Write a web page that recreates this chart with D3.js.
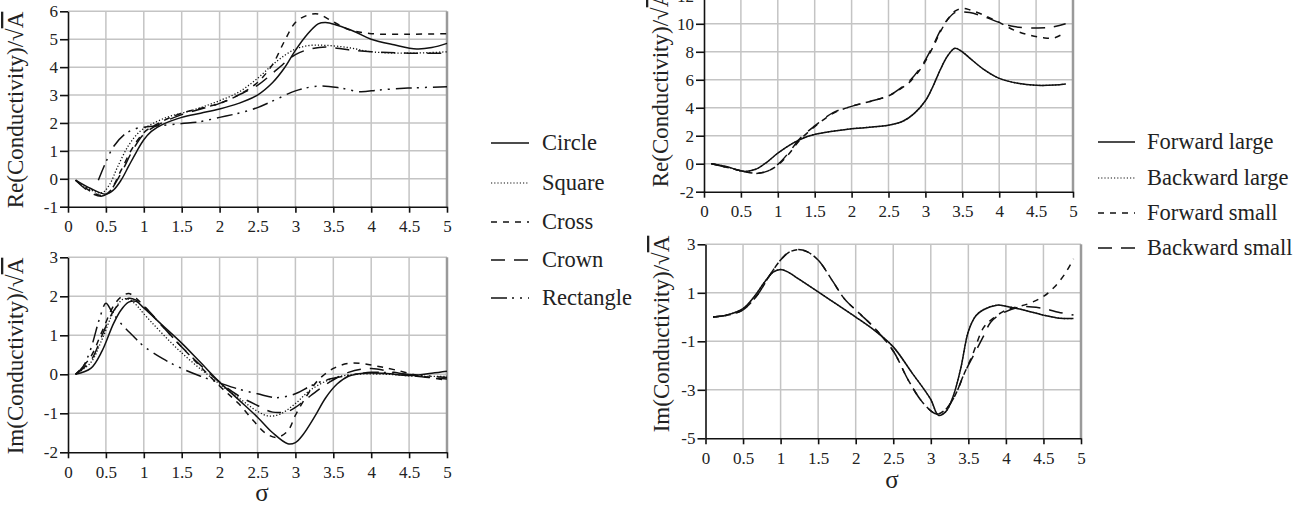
<!DOCTYPE html>
<html>
<head>
<meta charset="utf-8">
<script src="https://cdn.jsdelivr.net/npm/d3@7"></script>
<style>
body { margin: 0; background: #fff; }
svg text { font-family: "Liberation Serif", "Times New Roman", serif; fill: #222; }
.axis text { font-size: 17px; }
.axis path, .axis line { stroke: #111; stroke-width: 1.6; }
</style>
</head>
<body>
<svg id="chart" width="1302" height="508"></svg>
<script>
"use strict";

// ---- data ----
const sigmaTicks = [0, 0.5, 1, 1.5, 2, 2.5, 3, 3.5, 4, 4.5, 5];
const reLeftTicks = [-1, 0, 1, 2, 3, 4, 5, 6];
const imLeftTicks = [-2, -1, 0, 1, 2, 3];
const reRightTicks = [-2, 0, 2, 4, 6, 8, 10, 12];
const imRightTicks = [-5, -3, -1, 1, 3];

const shapes = ["Circle", "Square", "Cross", "Crown", "Rectangle"];
const runs = ["Forward large", "Backward large", "Forward small", "Backward small"];

// shapes, real part
const reCircle = [[0.1,-0.05],[0.3,-0.35],[0.5,-0.55],[0.6,-0.4],[0.7,-0.05],[0.8,0.45],[0.9,0.95],[1.0,1.4],[1.1,1.7],[1.25,1.95],[1.5,2.2],[1.75,2.35],[2.0,2.5],[2.25,2.7],[2.5,3.0],[2.7,3.45],[2.85,3.95],[3.0,4.6],[3.15,5.15],[3.3,5.55],[3.4,5.6],[3.55,5.5],[3.8,5.25],[4.0,5.0],[4.3,4.8],[4.6,4.65],[4.8,4.7],[5.0,4.85]];
const reSquare = [[0.1,-0.05],[0.3,-0.4],[0.45,-0.5],[0.55,-0.2],[0.65,0.4],[0.8,1.2],[0.95,1.7],[1.1,1.95],[1.3,2.2],[1.5,2.35],[1.75,2.55],[2.0,2.8],[2.25,3.1],[2.5,3.6],[2.75,4.2],[3.0,4.65],[3.2,4.78],[3.4,4.78],[3.7,4.7],[4.0,4.55],[4.5,4.5],[5.0,4.55]];
const reCross = [[0.1,-0.05],[0.3,-0.45],[0.45,-0.6],[0.55,-0.45],[0.7,0.3],[0.85,1.1],[1.0,1.65],[1.2,2.0],[1.5,2.35],[2.0,2.7],[2.25,3.0],[2.5,3.45],[2.7,4.1],[2.85,4.9],[3.0,5.6],[3.15,5.85],[3.3,5.9],[3.45,5.7],[3.7,5.35],[4.0,5.2],[4.5,5.18],[5.0,5.2]];
const reCrown = [[0.1,-0.05],[0.3,-0.5],[0.45,-0.62],[0.55,-0.45],[0.7,0.2],[0.85,1.0],[1.0,1.6],[1.2,1.95],[1.5,2.3],[2.0,2.7],[2.25,3.0],[2.5,3.35],[2.75,3.9],[3.0,4.45],[3.2,4.65],[3.4,4.72],[3.7,4.62],[4.0,4.55],[4.5,4.5],[5.0,4.5]];
const reRectangle = [[0.4,-0.05],[0.5,0.6],[0.6,1.15],[0.75,1.6],[0.9,1.8],[1.0,1.85],[1.2,1.9],[1.5,1.98],[1.75,2.05],[2.0,2.2],[2.25,2.35],[2.5,2.55],[2.75,2.85],[3.0,3.15],[3.3,3.32],[3.6,3.25],[3.85,3.12],[4.1,3.18],[4.5,3.25],[5.0,3.3]];

// shapes, imaginary part
const imCircle = [[0.1,0],[0.3,0.15],[0.45,0.6],[0.6,1.3],[0.7,1.65],[0.8,1.85],[0.9,1.87],[1.0,1.7],[1.25,1.25],[1.5,0.8],[1.75,0.3],[2.0,-0.2],[2.25,-0.65],[2.5,-1.1],[2.7,-1.5],[2.9,-1.78],[3.0,-1.75],[3.1,-1.55],[3.25,-1.1],[3.4,-0.6],[3.55,-0.25],[3.7,-0.05],[3.9,0.03],[4.2,0.02],[4.5,-0.03],[4.8,0.03],[5.0,0.08]];
const imSquare = [[0.1,0],[0.3,0.3],[0.45,0.9],[0.6,1.6],[0.72,1.92],[0.8,1.93],[0.9,1.78],[1.0,1.55],[1.5,0.55],[2.0,-0.25],[2.25,-0.6],[2.5,-0.95],[2.65,-1.07],[2.8,-1.02],[3.0,-0.75],[3.2,-0.4],[3.5,-0.1],[3.8,0.0],[4.2,0.0],[4.6,-0.05],[5.0,-0.05]];
const imCross = [[0.1,0],[0.3,0.45],[0.45,1.1],[0.6,1.75],[0.7,1.98],[0.8,2.07],[0.9,1.95],[1.0,1.75],[1.5,0.7],[2.0,-0.3],[2.25,-0.75],[2.45,-1.2],[2.6,-1.5],[2.75,-1.62],[2.9,-1.45],[3.0,-1.05],[3.15,-0.55],[3.3,-0.15],[3.5,0.15],[3.7,0.28],[3.9,0.27],[4.1,0.2],[4.3,0.12],[4.6,-0.02],[5.0,-0.15]];
const imCrown = [[0.1,0],[0.3,0.35],[0.45,1.0],[0.55,1.45],[0.65,1.75],[0.8,1.95],[0.9,1.9],[1.0,1.75],[1.5,0.7],[2.0,-0.2],[2.25,-0.55],[2.5,-0.8],[2.7,-0.97],[2.9,-0.95],[3.0,-0.85],[3.2,-0.55],[3.45,-0.2],[3.7,0.05],[4.0,0.15],[4.3,0.05],[4.6,-0.05],[5.0,-0.12]];
const imRectangle = [[0.1,0],[0.2,0.2],[0.3,0.65],[0.42,1.45],[0.5,1.82],[0.58,1.6],[0.7,1.3],[0.85,1.0],[1.0,0.72],[1.25,0.4],[1.5,0.15],[1.75,-0.05],[2.0,-0.22],[2.25,-0.38],[2.5,-0.5],[2.75,-0.6],[3.0,-0.5],[3.2,-0.3],[3.4,-0.15],[3.7,-0.03],[4.0,0.05],[4.3,0.03],[4.6,-0.02],[5.0,-0.08]];

// scattering runs, real part
const reFwdLarge = [[0.1,0],[0.3,-0.2],[0.55,-0.55],[0.7,-0.4],[0.85,0.1],[1.0,0.75],[1.2,1.45],[1.4,1.95],[1.6,2.2],[2.0,2.5],[2.5,2.75],[2.7,3.05],[2.85,3.6],[3.0,4.5],[3.1,5.5],[3.2,6.7],[3.3,7.7],[3.4,8.25],[3.5,8.0],[3.6,7.55],[3.8,6.7],[4.0,6.1],[4.25,5.75],[4.5,5.6],[4.75,5.62],[4.9,5.7]];
const reBwdLarge = [[0.1,0],[0.3,-0.2],[0.55,-0.55],[0.7,-0.4],[0.85,0.1],[1.0,0.75],[1.2,1.45],[1.4,1.95],[1.6,2.2],[2.0,2.5],[2.5,2.75],[2.7,3.05],[2.85,3.6],[3.0,4.5],[3.1,5.5],[3.2,6.7],[3.3,7.7],[3.4,8.25],[3.5,8.0],[3.6,7.55],[3.8,6.7],[4.0,6.1],[4.25,5.75],[4.5,5.6],[4.75,5.62],[4.9,5.7]];
const reFwdSmall = [[0.1,0],[0.3,-0.25],[0.5,-0.5],[0.7,-0.68],[0.85,-0.55],[1.0,-0.1],[1.15,0.7],[1.3,1.7],[1.5,2.65],[1.75,3.6],[2.0,4.1],[2.25,4.45],[2.5,4.85],[2.65,5.3],[2.8,5.9],[2.95,6.9],[3.1,8.3],[3.2,9.4],[3.3,10.3],[3.4,10.9],[3.5,11.1],[3.6,11.0],[3.8,10.6],[4.0,10.1],[4.2,9.55],[4.4,9.2],[4.6,9.0],[4.75,9.0],[4.9,9.4]];
const reBwdSmall = [[0.1,0],[0.3,-0.25],[0.5,-0.5],[0.7,-0.7],[0.85,-0.55],[1.0,-0.05],[1.15,0.8],[1.3,1.8],[1.5,2.7],[1.75,3.65],[2.0,4.1],[2.25,4.45],[2.5,4.85],[2.65,5.35],[2.8,6.0],[2.95,7.0],[3.1,8.4],[3.2,9.5],[3.3,10.3],[3.4,10.8],[3.5,10.85],[3.6,10.8],[3.8,10.5],[4.0,10.1],[4.2,9.8],[4.5,9.7],[4.7,9.75],[4.9,10.0]];

// scattering runs, imaginary part
const imFwdLarge = [[0.1,0],[0.3,0.1],[0.5,0.35],[0.65,0.85],[0.8,1.5],[0.9,1.85],[1.0,1.96],[1.1,1.85],[1.25,1.55],[1.5,1.04],[1.75,0.52],[2.0,0.0],[2.25,-0.55],[2.5,-1.23],[2.75,-2.3],[3.0,-3.4],[3.1,-4.05],[3.2,-3.9],[3.3,-3.25],[3.4,-2.1],[3.5,-0.6],[3.6,0.05],[3.7,0.3],[3.88,0.49],[4.0,0.45],[4.25,0.28],[4.5,0.08],[4.72,-0.05],[4.9,-0.06]];
const imBwdLarge = [[0.1,0],[0.3,0.1],[0.5,0.35],[0.65,0.85],[0.8,1.5],[0.9,1.85],[1.0,1.96],[1.1,1.85],[1.25,1.55],[1.5,1.04],[1.75,0.52],[2.0,0.0],[2.25,-0.55],[2.5,-1.23],[2.75,-2.3],[3.0,-3.4],[3.1,-4.05],[3.2,-3.9],[3.3,-3.25],[3.4,-2.1],[3.5,-0.6],[3.6,0.05],[3.7,0.3],[3.88,0.49],[4.0,0.45],[4.25,0.28],[4.5,0.08],[4.72,-0.05],[4.9,-0.06]];
const imFwdSmall = [[0.1,0],[0.3,0.08],[0.5,0.3],[0.7,0.95],[0.85,1.7],[1.0,2.35],[1.1,2.65],[1.22,2.78],[1.35,2.7],[1.5,2.35],[1.7,1.45],[1.85,0.75],[2.05,0.15],[2.25,-0.45],[2.5,-1.4],[2.7,-2.6],[2.9,-3.55],[3.08,-4.0],[3.2,-3.8],[3.32,-3.25],[3.45,-2.3],[3.55,-1.6],[3.7,-0.45],[3.8,-0.12],[4.0,0.28],[4.3,0.55],[4.5,0.85],[4.65,1.25],[4.8,1.85],[4.9,2.4]];
const imBwdSmall = [[0.1,0],[0.3,0.08],[0.5,0.3],[0.7,0.95],[0.85,1.7],[1.0,2.35],[1.1,2.65],[1.22,2.78],[1.35,2.7],[1.5,2.35],[1.7,1.45],[1.85,0.75],[2.05,0.15],[2.25,-0.45],[2.5,-1.4],[2.7,-2.6],[2.9,-3.55],[3.08,-4.0],[3.2,-3.8],[3.32,-3.25],[3.45,-2.3],[3.6,-1.4],[3.7,-0.8],[3.8,-0.2],[3.95,0.15],[4.2,0.42],[4.5,0.35],[4.7,0.2],[4.9,0.08]];

// line styles per legend entry
const dashes = {
	"Circle": null, "Square": "1.2,2", "Cross": "6,6", "Crown": "14,9", "Rectangle": "16,5,2,6,2,6",
	"Forward large": null, "Backward large": "1.2,2", "Forward small": "6,6", "Backward small": "14,9",
};

const panels = [
	{ left: 68, right: 447, top: 11.3, bottom: 206.7, yDomain: [-1, 6], yTicks: reLeftTicks,
		title: "Re", titleX: 23, titleY: 110, names: shapes,
		series: [reCircle, reSquare, reCross, reCrown, reRectangle] },
	{ left: 68, right: 447, top: 257.3, bottom: 452.3, yDomain: [-2, 3], yTicks: imLeftTicks,
		title: "Im", titleX: 23, titleY: 356, names: shapes,
		series: [imCircle, imSquare, imCross, imCrown, imRectangle] },
	{ left: 704, right: 1073, top: -4.2, bottom: 191.7, yDomain: [-2, 12], yTicks: reRightTicks,
		title: "Re", titleX: 668, titleY: 89, names: runs,
		series: [reFwdLarge, reBwdLarge, reFwdSmall, reBwdSmall] },
	{ left: 705.5, right: 1081, top: 244.3, bottom: 438.3, yDomain: [-5, 3], yTicks: imRightTicks,
		title: "Im", titleX: 669, titleY: 334, names: runs,
		series: [imFwdLarge, imBwdLarge, imFwdSmall, imBwdSmall] },
];

const svg = d3.select("#chart");
const fmt = (d) => String(d);

const drawPanel = (p) => {
	const x = d3.scaleLinear().domain([0, 5]).range([p.left, p.right]);
	const y = d3.scaleLinear().domain(p.yDomain).range([p.bottom, p.top]);
	const g = svg.append("g");

	// grid
	g.append("g").selectAll("line")
		.data(sigmaTicks.filter((d) => d > 0 && d < 5))
		.join("line")
		.attr("x1", (d) => x(d)).attr("x2", (d) => x(d))
		.attr("y1", p.top).attr("y2", p.bottom)
		.attr("stroke", "#c4c4c4").attr("stroke-width", 1.5);
	g.append("g").selectAll("line")
		.data(p.yTicks.filter((d) => d > p.yDomain[0]))
		.join("line")
		.attr("x1", p.left).attr("x2", p.right)
		.attr("y1", (d) => y(d)).attr("y2", (d) => y(d))
		.attr("stroke", "#c4c4c4").attr("stroke-width", 1.5);
	g.append("line")
		.attr("x1", p.right).attr("x2", p.right)
		.attr("y1", p.top).attr("y2", p.bottom)
		.attr("stroke", "#9a9a9a").attr("stroke-width", 2.5);

	// curves
	const line = d3.line()
		.x((d) => x(d[0]))
		.y((d) => y(d[1]))
		.curve(d3.curveCatmullRom.alpha(0.5));
	p.series.forEach((s, i) => {
		g.append("path")
			.datum(s)
			.attr("d", line)
			.attr("fill", "none")
			.attr("stroke", "#111")
			.attr("stroke-width", dashes[p.names[i]] === "1.2,2" ? 1.3 : 1.5)
			.attr("stroke-dasharray", dashes[p.names[i]]);
	});

	// axes
	g.append("g").attr("class", "axis")
		.attr("transform", `translate(0,${p.bottom})`)
		.call(d3.axisBottom(x).tickValues(sigmaTicks).tickFormat(fmt)
			.tickSize(6).tickPadding(7.5).tickSizeOuter(0));
	g.append("g").attr("class", "axis")
		.attr("transform", `translate(${p.left},0)`)
		.call(d3.axisLeft(y).tickValues(p.yTicks).tickFormat(fmt)
			.tickSize(8).tickPadding(2).tickSizeOuter(0));

	const t = g.append("text")
		.attr("transform", `translate(${p.titleX},${p.titleY}) rotate(-90)`)
		.attr("text-anchor", "middle")
		.style("font-size", "23px");
	t.append("tspan").text(`${p.title}(Conductivity)/\u221A`);
	t.append("tspan").style("text-decoration", "overline").text("A");
};

panels.forEach(drawPanel);

// sigma labels
[[262, 501], [892, 488]].forEach(([cx, cy]) => {
	svg.append("text").attr("x", cx).attr("y", cy)
		.attr("text-anchor", "middle").style("font-size", "25px").text("\u03C3");
});

// legends
const legend = (names, x0, x1, tx, ys) => {
	const g = svg.append("g");
	names.forEach((n, i) => {
		g.append("line")
			.attr("x1", x0).attr("x2", x1).attr("y1", ys[i]).attr("y2", ys[i])
			.attr("stroke", "#111").attr("stroke-width", dashes[n] === "1.2,2" ? 1.2 : 1.5)
			.attr("stroke-dasharray", dashes[n]);
		g.append("text").attr("x", tx).attr("y", ys[i]).attr("dy", "0.33em")
			.style("font-size", "22.5px").text(n);
	});
};
legend(shapes, 491, 529, 542, [143, 183, 222, 260, 298]);
legend(runs, 1098, 1135, 1147, [142, 178, 213, 248]);
</script>
</body>
</html>
